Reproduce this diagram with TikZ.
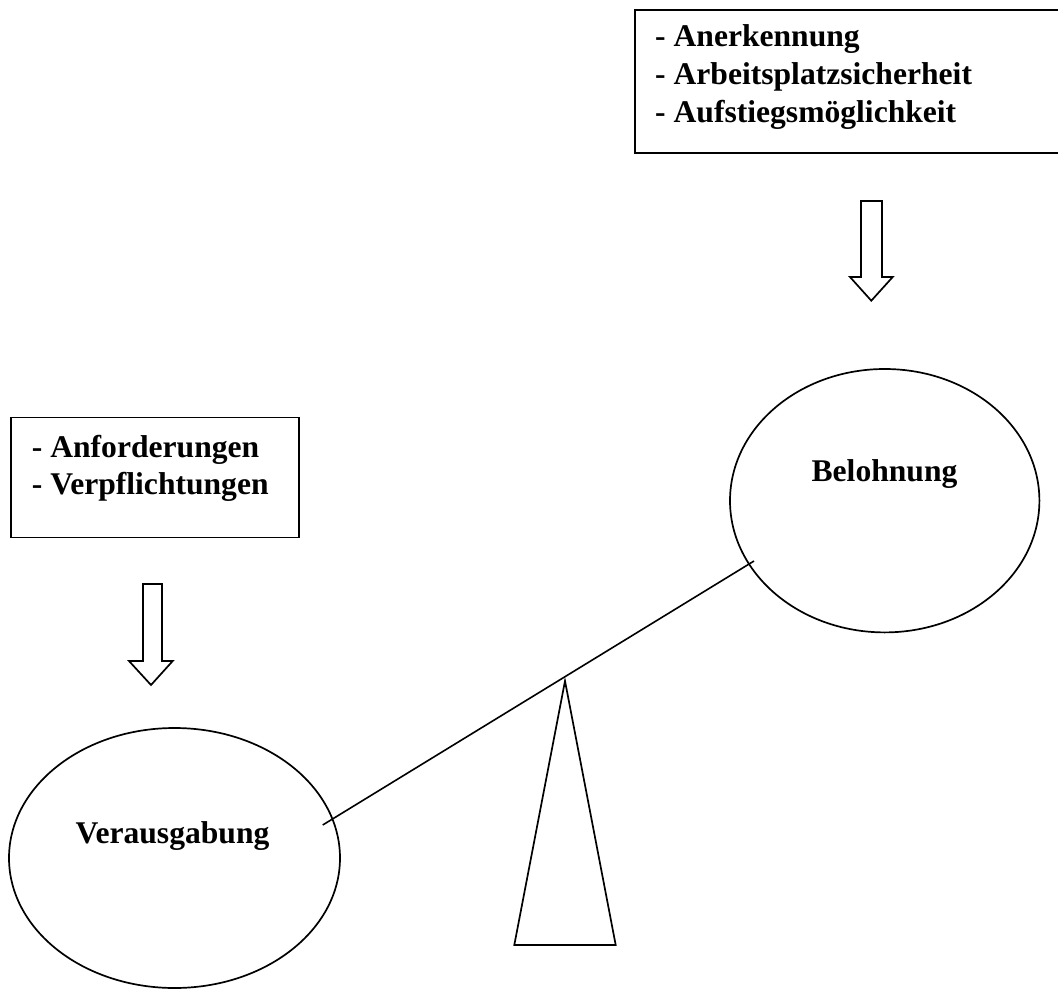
\documentclass[tikz,border=0pt]{standalone}
\usepackage{fontspec}
\setmainfont{Liberation Serif}
\usetikzlibrary{shapes.geometric}
\begin{document}
\begin{tikzpicture}[x=1pt,y=-1pt,
  outline/.style={draw=black,line width=1.7pt},
  lbl/.style={font=\fontsize{31.6}{38}\selectfont\bfseries,inner sep=0pt,anchor=base west},
  ctr/.style={font=\fontsize{31.6}{38}\selectfont\bfseries,inner sep=0pt,anchor=base},
  oval/.style={outline,ellipse,inner sep=0pt}]
\useasboundingbox (0,0) rectangle (1058,990);
\clip (0,0) rectangle (1058,990);

% upper list box (rewards)
\node[outline,rectangle,inner sep=0pt,minimum width=430,minimum height=143,anchor=north west] (rewardbox) at (634,9) {};
\node[lbl] (r1) at (655,46.7) {- Anerkennung};
\node[lbl] (r2) at (655,84.5) {- Arbeitsplatzsicherheit};
\node[lbl] (r3) at (655,122.7) {- Aufstiegsmöglichkeit};

% lower list box (demands)
\node[outline,rectangle,inner sep=0pt,minimum width=288.3,minimum height=120,anchor=north west] (effortbox) at (10,416.7) {};
\node[lbl] (e1) at (31.7,457.3) {- Anforderungen};
\node[lbl] (e2) at (31.7,494.3) {- Verpflichtungen};

% hollow block arrows
\draw[outline,line join=miter] (861,201) -- (882,201) -- (882,277) -- (892.7,277)
  -- (871.3,300.7) -- (850,277) -- (861,277) -- cycle;
\draw[outline,line join=miter] (143,584) -- (162,584) -- (162,661) -- (172.7,661)
  -- (151,685) -- (129,661) -- (143,661) -- cycle;

% the two pans of the balance
\node[oval,minimum width=309.4,minimum height=263.4] (reward) at (884.7,500.7) {};
\node[ctr] (rewardlbl) at (884.5,481.7) {Belohnung};
\node[oval,minimum width=331,minimum height=260] (effort) at (174.5,858) {};
\node[ctr] (effortlbl) at (172.5,843) {Verausgabung};

% beam and fulcrum
\coordinate (beamL) at (322.7,825);
\coordinate (beamR) at (754,561);
\draw[black,line width=1.6pt] (beamL) -- (beamR);
\coordinate (apex) at (565,681);
\coordinate (baseL) at (514.3,945);
\coordinate (baseR) at (615.7,945);
\draw[outline,line join=miter] (apex) -- (baseR) -- (baseL) -- cycle;
\end{tikzpicture}
\end{document}
